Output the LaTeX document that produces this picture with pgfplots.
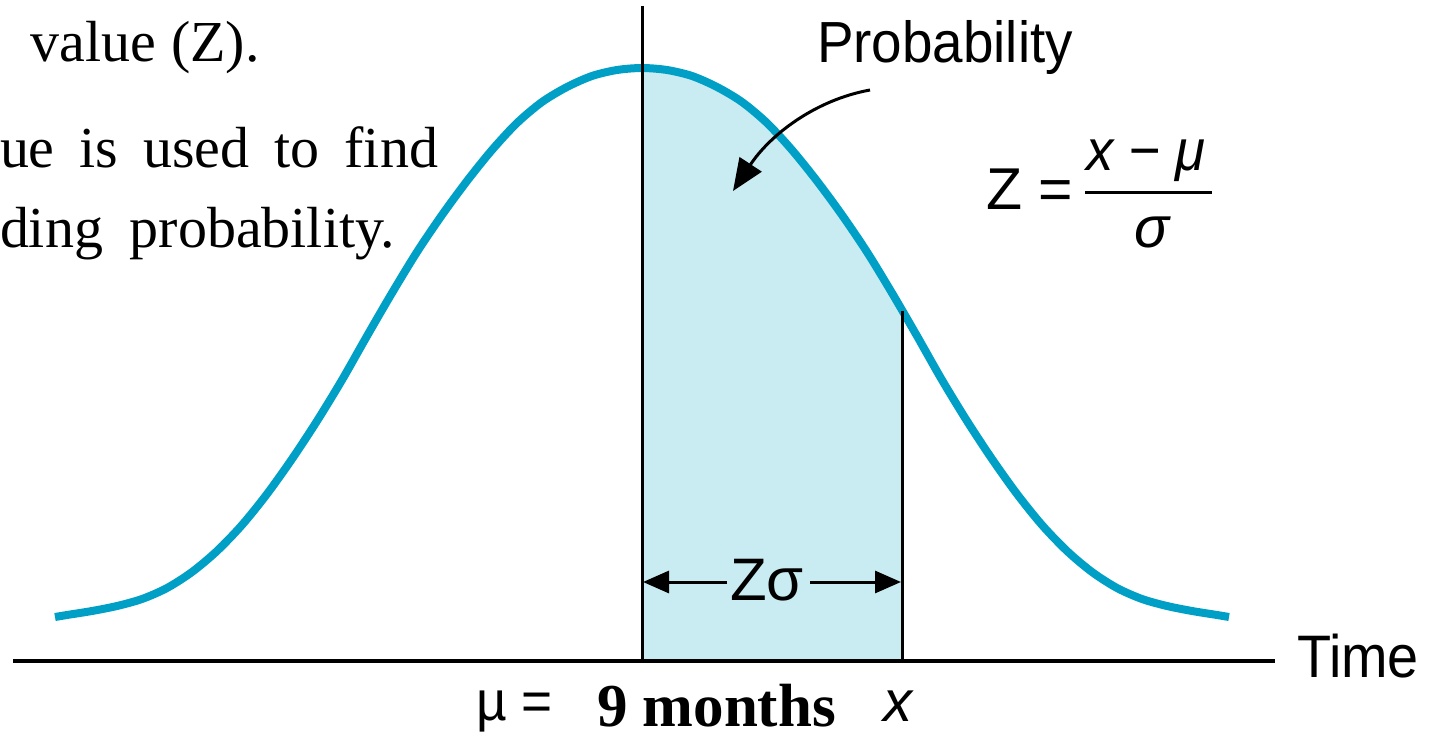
\documentclass[border=0pt]{standalone}
\usepackage{pgfplots}
\pgfplotsset{compat=1.18}
\usepackage{pgfplotstable}
\usepackage{fontspec}
\setmainfont{Liberation Serif}
\newfontfamily\sans{Liberation Sans}
\usetikzlibrary{arrows.meta}
\definecolor{curvecol}{RGB}{0,160,198}
\definecolor{fillcol}{RGB}{201,235,242}
\tikzset{lbl/.style={inner sep=0pt, outer sep=0pt, anchor=base west}}

\pgfplotstableread{
x y
55 617
67 615
92 611
117 606
142 599
167 588
192 572
217 551
242 525
267 494
292 459
317 421
342 380
367 336
392 293
417 252
442 215
467 181
492 150
517 123
542 102
567 87
592 76
617 70
642 68
667 70
692 76
717 87
742 102
767 123
792 150
817 181
842 215
867 252
892 293
917 336
942 380
967 421
992 459
1017 494
1042 525
1067 551
1092 572
1117 588
1142 599
1167 606
1192 611
1217 615
1229 617
}\curvedata

\begin{document}
\begin{tikzpicture}
\begin{axis}[
  hide axis, scale only axis, clip=false,
  width=715.5pt, height=369pt,
  xmin=0, xmax=1431, ymin=0, ymax=738,
  y dir=reverse,
]
\path (axis cs:0,0) rectangle (axis cs:1431,738);
% shaded probability area
\addplot[fill=fillcol, draw=none] coordinates {
 (642,661) (642,68) (667,70) (692,76) (717,87) (742,102) (767,123)
 (792,150) (817,181) (842,215) (867,252) (892,293) (902,310) (902,661)
} -- cycle;
% bell curve
\addplot[curvecol, line width=4pt, smooth] table {\curvedata};
% vertical lines and baseline
\draw[line width=1.5pt] (axis cs:642,6) -- (axis cs:642,661);
\draw[line width=1.5pt] (axis cs:902,311) -- (axis cs:902,661);
\draw[line width=2pt] (axis cs:13,661) -- (axis cs:1275,661);
% Z sigma arrows
\draw[line width=1.5pt, -{Triangle[length=13pt,width=11pt]}] (axis cs:727,582) -- (axis cs:643,582);
\draw[line width=1.5pt, -{Triangle[length=13pt,width=11pt]}] (axis cs:810,582) -- (axis cs:901,582);
% probability arrow
\draw[line width=1.5pt, -{Triangle[length=16pt,width=13pt]}] (axis cs:870,90) .. controls (axis cs:815,100) and (axis cs:770,135) .. (axis cs:733,191);
% serif text at left
\node[lbl, font=\fontsize{29}{34}\selectfont] at (axis cs:31,62) {value (Z).};
\node[lbl, font=\fontsize{29}{34}\selectfont] at (axis cs:0,168) {\makebox[219pt][s]{ue is used to find}};
\node[lbl, font=\fontsize{29}{34}\selectfont] at (axis cs:0,248) {\makebox[197.5pt][s]{ding probability.}};
% sans labels
\node[lbl, font=\sans\fontsize{29}{34}\selectfont, xscale=0.945] at (axis cs:817,63) {Probability};
\node[lbl, font=\sans\fontsize{30}{34}\selectfont, xscale=0.93] at (axis cs:1297,677) {Time};
\node[lbl, font=\sans\fontsize{29.5}{34}\selectfont] at (axis cs:986,210) {Z =};
\node[lbl, font=\sans\itshape\fontsize{29}{34}\selectfont, xscale=0.94] at (axis cs:1086,170) {x − μ};
\draw[line width=1.5pt] (axis cs:1085,193) -- (axis cs:1212,193);
\node[inner sep=0pt, outer sep=0pt, anchor=base, font=\sans\itshape\fontsize{29}{34}\selectfont] at (axis cs:1152,248) {σ};
\node[lbl, font=\sans\fontsize{30}{34}\selectfont] at (axis cs:730,600) {Zσ};
\node[lbl, font=\sans\fontsize{28}{32}\selectfont, xscale=0.95] at (axis cs:476,720) {µ =};
\node[lbl, font=\sans\itshape\fontsize{29}{34}\selectfont] at (axis cs:883,721) {x};
\node[lbl, font=\bfseries\fontsize{30.5}{34}\selectfont] at (axis cs:597,726) {9 months};
\end{axis}
\end{tikzpicture}
\end{document}
